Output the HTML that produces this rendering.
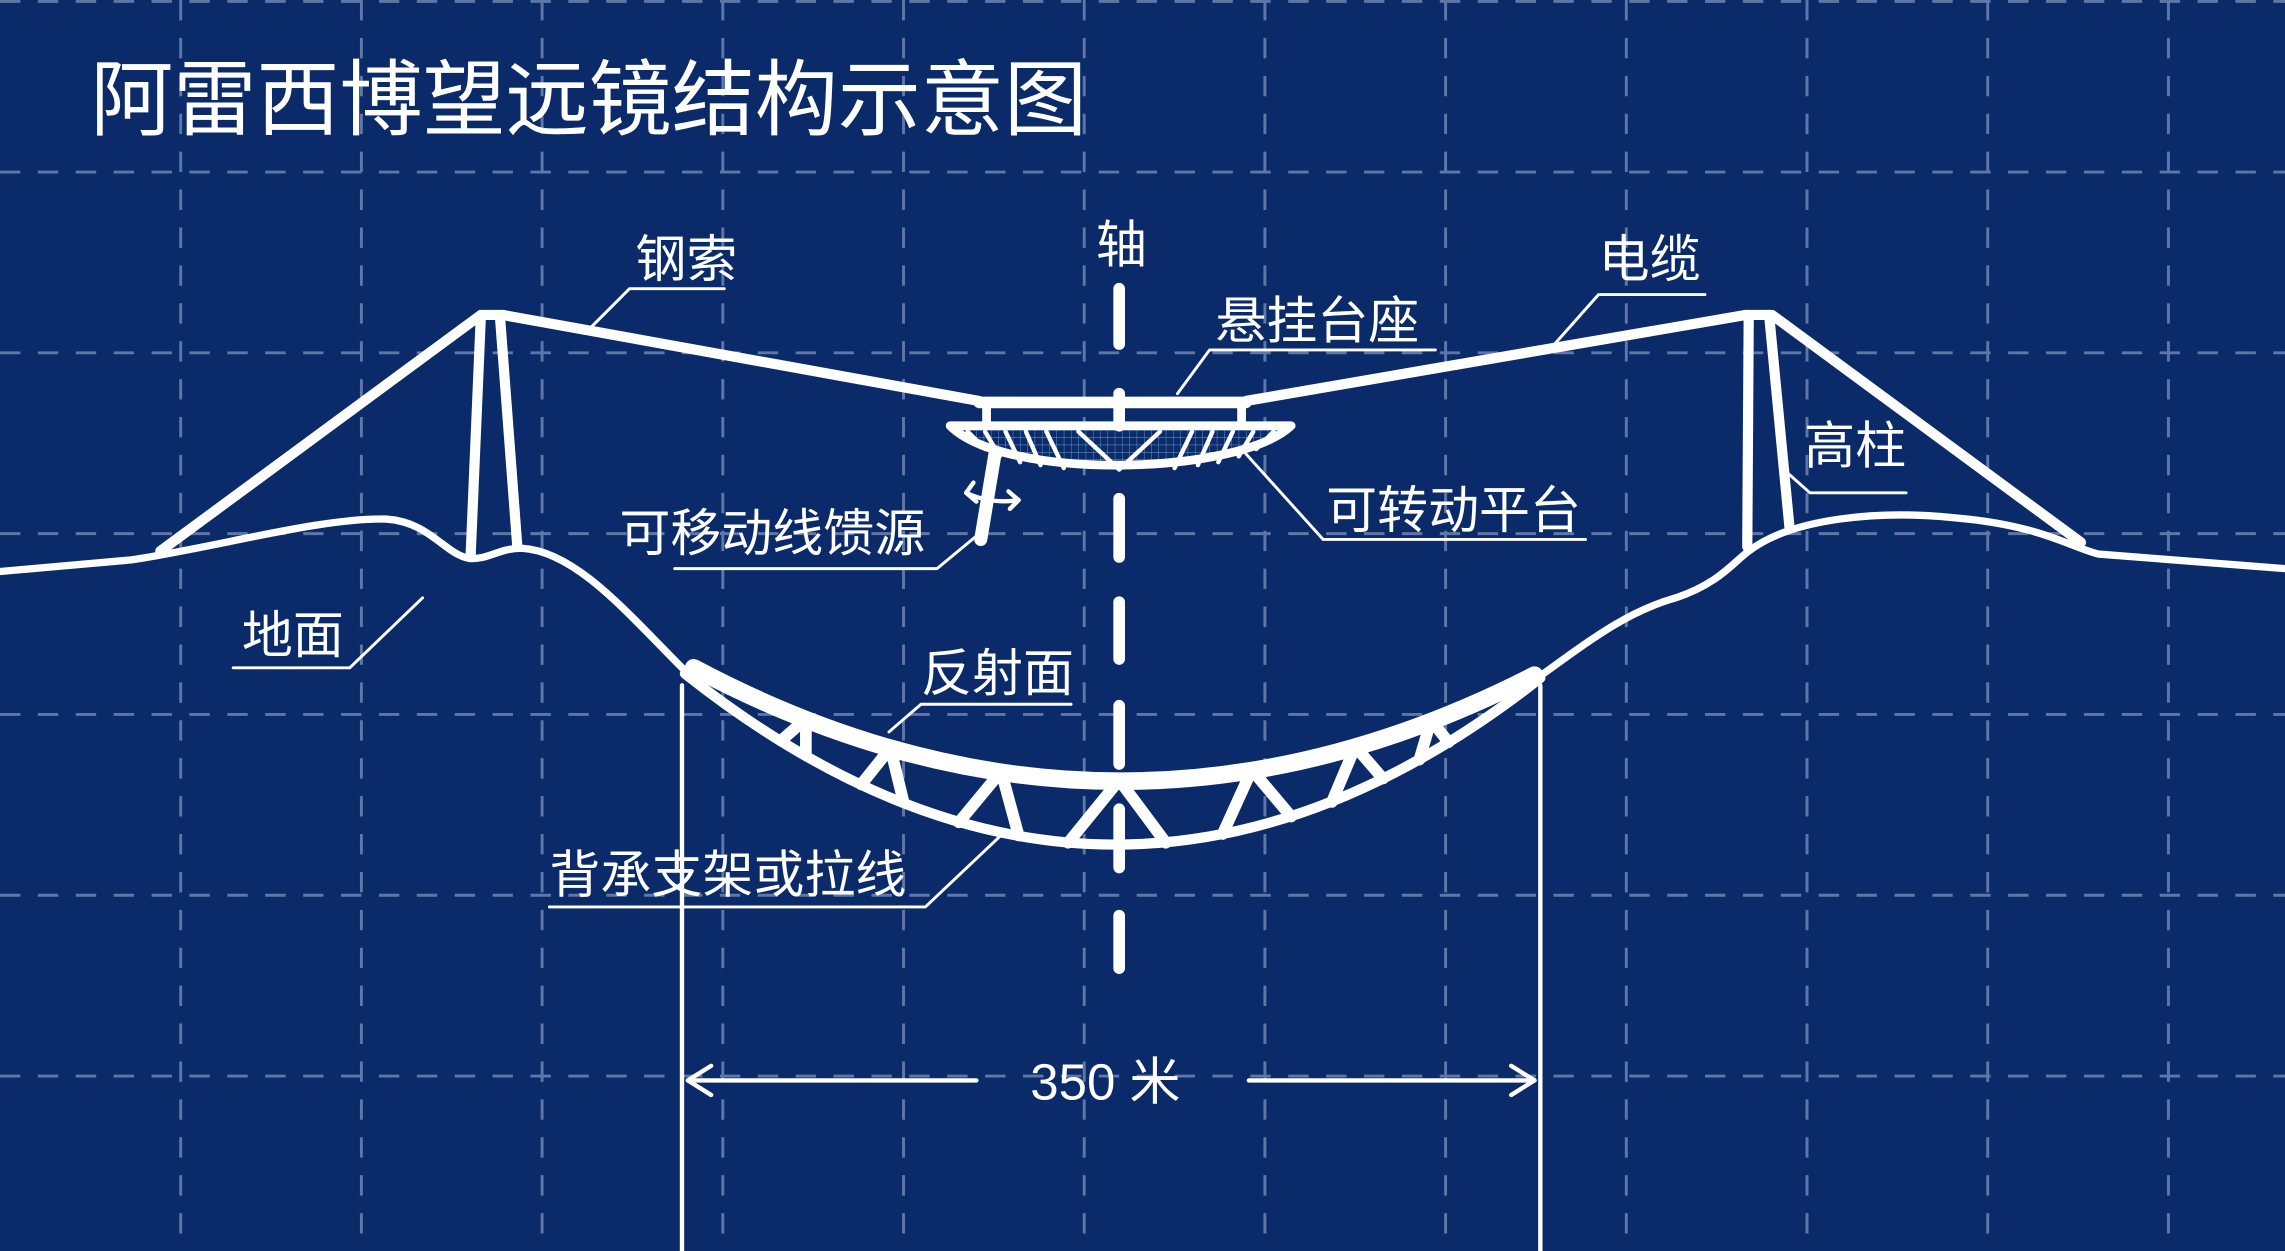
<!DOCTYPE html>
<html><head><meta charset="utf-8"><style>
html,body{margin:0;padding:0;background:#0a2a69;}
svg{display:block;}
text{font-family:"Liberation Sans","Noto Sans CJK SC",sans-serif;fill:#fff;}
</style></head><body>
<svg width="2285" height="1251" viewBox="0 0 1568 858" preserveAspectRatio="none" xmlns="http://www.w3.org/2000/svg">
<defs>
<pattern id="gp" width="5" height="5" patternUnits="userSpaceOnUse">
<rect width="5" height="5" fill="#0a2a69"/>
<path d="M0,0 H5 M0,0 V5" stroke="#6fa0d0" stroke-width="0.6"/>
</pattern>
</defs>
<rect width="1568" height="858" fill="#0a2a69"/>
<g stroke="#5f77a6" stroke-width="2" stroke-dasharray="14 12" fill="none">
<line x1="0" y1="1" x2="1568" y2="1"/>
<line x1="0" y1="118" x2="1568" y2="118"/>
<line x1="0" y1="242" x2="1568" y2="242"/>
<line x1="0" y1="366" x2="1568" y2="366"/>
<line x1="0" y1="490" x2="1568" y2="490"/>
<line x1="0" y1="614" x2="1568" y2="614"/>
<line x1="0" y1="738" x2="1568" y2="738"/>
<line x1="124" y1="0" x2="124" y2="858"/>
<line x1="248" y1="0" x2="248" y2="858"/>
<line x1="372" y1="0" x2="372" y2="858"/>
<line x1="496" y1="0" x2="496" y2="858"/>
<line x1="620" y1="0" x2="620" y2="858"/>
<line x1="744" y1="0" x2="744" y2="858"/>
<line x1="868" y1="0" x2="868" y2="858"/>
<line x1="992" y1="0" x2="992" y2="858"/>
<line x1="1116" y1="0" x2="1116" y2="858"/>
<line x1="1240" y1="0" x2="1240" y2="858"/>
<line x1="1364" y1="0" x2="1364" y2="858"/>
<line x1="1488" y1="0" x2="1488" y2="858"/>
</g>
<text x="62" y="88" font-size="57">阿雷西博望远镜结构示意图</text>

<g stroke="#fff" fill="none" stroke-linejoin="round" stroke-linecap="round">
<!-- ground -->
<path d="M0,392 L90,384 C150,375 220,355 265,356 C295,358 305,380 322,383 C335,384 342,376 358,376 C395,378 430,420 470,460" stroke-width="5"/>
<path d="M1055,465 C1090,440 1115,420 1150,410 C1180,400 1190,385 1200,378 C1230,355 1290,350 1340,355 C1400,360 1420,375 1440,380 L1568,390" stroke-width="5"/>
<!-- left tower -->
<path d="M110,378 L330,216 L345,216 L672,275" stroke-width="7"/>
<path d="M330,216 L323,380 M343,216 L355,375" stroke-width="7"/>
<!-- right tower -->
<path d="M855,275 L1198,216 L1216,216 L1428,372" stroke-width="7"/>
<path d="M1200,216 L1199,375 M1214,216 L1228,362" stroke-width="7"/>
<!-- platform -->
<path d="M672,276 L855,276" stroke-width="8"/>
<path d="M677,276 L677,292 M852,276 L852,292" stroke-width="6"/>
<path d="M652,292 L886,292 C850,326 690,330 652,292 Z" stroke-width="6" fill="url(#gp)"/>
<path d="M664,296 L676,308 M676,296 L686,313 M690,296 L700,317 M704,296 L714,319 M718,296 L730,321 M740,296 L768,322 L796,296 M806,321 L818,296 M822,319 L832,296 M836,317 L846,296 M850,313 L860,296 M862,308 L874,296" stroke-width="3"/>
<path d="M683,310 L673,370" stroke-width="9"/>
<path d="M663,338 Q680,346 699,343" stroke-width="3"/>
<path d="M663,338 L668,331 M663,338 L670,344 M699,343 L692,337 M699,343 L693,349" stroke-width="3"/>
<!-- axis -->
<path d="M768,198 L768,236 M768,270 L768,292 M768,342 L768,382 M768,413 L768,452 M768,484 L768,524 M768,555 L768,595 M768,628 L768,664" stroke-width="8"/>
<!-- dish -->
<path d="M470,462 Q764,695 1057,465" stroke-width="7"/>
<path d="M476,458 Q764,611 1053,463" stroke-width="12"/>
<path d="M536,508 L553,493 L553,518 M591,538 L611,513 L620,550 M658,564 L687,529 L699,573 M733,578 L768,535 L800,578 M839,572 L859,528 L886,560 M914,550 L930,512 L949,534 M974,521 L982,494 L994,509" stroke-width="8"/>
<!-- dimension -->
<path d="M468,470 L468,858 M1057,470 L1057,858" stroke-width="3"/>
<path d="M472,741 L670,741 M857,741 L1053,741" stroke-width="3"/>
<path d="M488,731 L472,741 L488,751 M1037,731 L1053,741 L1037,751" stroke-width="3"/>
<!-- leaders -->
<g stroke-width="2">
<path d="M497,198 L432,198 L405,225"/>
<path d="M985,240 L830,240 L808,270"/>
<path d="M1170,202 L1097,202 L1065,238"/>
<path d="M1308,338 L1242,338 L1224,322"/>
<path d="M1088,370 L908,370 L852,308"/>
<path d="M463,390 L643,390 L672,366"/>
<path d="M160,458 L240,458 L290,410"/>
<path d="M735,483 L632,483 L610,502"/>
<path d="M377,622 L635,622 L690,570"/>
</g>
</g>
<g font-size="35">
<text x="436" y="190">钢索</text>
<text x="752" y="180">轴</text>
<text x="834" y="232">悬挂台座</text>
<text x="1097" y="190">电缆</text>
<text x="1238" y="318">高柱</text>
<text x="910" y="362">可转动平台</text>
<text x="425" y="378">可移动线馈源</text>
<text x="166" y="448">地面</text>
<text x="632" y="474">反射面</text>
<text x="377" y="612">背承支架或拉线</text>
<text x="707" y="754">350 米</text>
</g>
</svg>
</body></html>
